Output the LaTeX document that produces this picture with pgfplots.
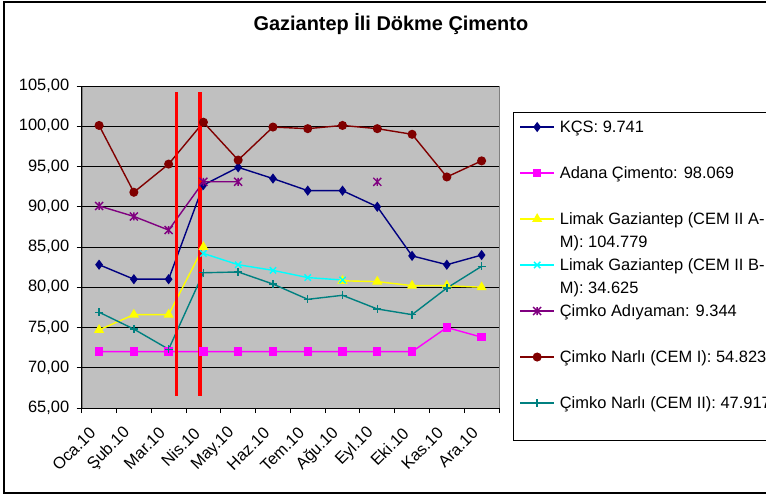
\documentclass[border=0pt]{standalone}
\usepackage{fontspec}
\setmainfont{Liberation Sans}
\usepackage{pgfplots}
\usepackage{pgfplotstable}
\pgfplotsset{compat=1.18}
\definecolor{kcs}{HTML}{000080}
\definecolor{adana}{HTML}{FF00FF}
\definecolor{lima}{HTML}{FFFF00}
\definecolor{limb}{HTML}{00FFFF}
\definecolor{adi}{HTML}{800080}
\definecolor{narA}{HTML}{800000}
\definecolor{narB}{HTML}{008080}
\definecolor{plotbg}{HTML}{C0C0C0}
\pgfdeclareplotmark{xstar}{%
  \pgfpathmoveto{\pgfqpoint{-\pgfplotmarksize}{-\pgfplotmarksize}}%
  \pgfpathlineto{\pgfqpoint{\pgfplotmarksize}{\pgfplotmarksize}}%
  \pgfpathmoveto{\pgfqpoint{-\pgfplotmarksize}{\pgfplotmarksize}}%
  \pgfpathlineto{\pgfqpoint{\pgfplotmarksize}{-\pgfplotmarksize}}%
  \pgfpathmoveto{\pgfqpoint{0pt}{-\pgfplotmarksize}}%
  \pgfpathlineto{\pgfqpoint{0pt}{\pgfplotmarksize}}%
  \pgfusepathqstroke}
\pgfplotstableread{
x  kcs   adana limA  limB  adi   n1    n2
0  82.8  72    74.7  nan   90.1  100.1 76.9
1  81.0  72    76.6  nan   88.8  91.8  74.8
2  81.0  72    76.6  nan   87.1  95.3  72.3
3  92.7  72    85.0  84.2  93.1  100.5 81.8
4  94.9  72    nan   82.8  93.1  95.8  81.9
5  93.5  72    nan   82.1  nan   99.9  80.4
6  92.0  72    nan   81.2  nan   99.7  78.5
7  92.0  72    80.8  80.9  nan   100.1 79.0
8  90.0  72    80.7  nan   93.1  99.7  77.3
9  83.9  72    80.2  nan   nan   99.0  76.6
10 82.8  75.0  80.2  nan   nan   93.7  79.9
11 84.0  73.8  80.0  nan   nan   95.7  82.6
}\datatable
\begin{document}
\begin{tikzpicture}
\useasboundingbox (0,0) rectangle (766bp,494bp);
\draw[line width=1.3bp] (900bp,492bp) -- (4bp,492bp) -- (4bp,1bp) -- (900bp,1bp);
\begin{axis}[
  at={(81.7bp,86bp)}, anchor=south west,
  scale only axis, width=417.3bp, height=322bp,
  xmin=-0.5, xmax=11.5, ymin=65, ymax=105,
  unbounded coords=jump,
  axis background/.style={fill=plotbg, draw=gray},
  axis x line*=bottom, axis y line*=left,
  axis line style={-, black, line width=0.9bp},
  tick align=outside,
  xtick={0,...,11},
  xticklabels={Oca.10,Şub.10,Mar.10,Nis.10,May.10,Haz.10,Tem.10,Ağu.10,Eyl.10,Eki.10,Kas.10,Ara.10},
  minor xtick={-0.5,0.5,...,11.5},
  major x tick style={draw=none},
  minor x tick style={black, line width=0.9bp},
  minor tick length=5bp,
  ytick={65,70,...,105},
  major y tick style={black, line width=0.9bp},
  major tick length=5bp,
  ymajorgrids, major grid style={black, line width=0.8bp},
  tick label style={font=\fontsize{16.5}{19}\selectfont},
  xticklabel style={xshift=-4bp, yshift=-15bp, rotate=45, anchor=east},
  yticklabel style={xshift=-4bp},
  /pgf/number format/assume math mode=true,
  yticklabel={\pgfmathprintnumber[fixed, fixed zerofill, precision=2, use comma, 1000 sep={}]{\tick}},
  title={\bfseries Gaziantep İli Dökme Çimento},
  title style={at={(axis description cs:0.741,1.1553)}, anchor=base, font=\bfseries\fontsize{20}{24}\selectfont},
  legend cell align=left,
  legend image code/.code={\draw[mark repeat=2,mark phase=2,#1] plot coordinates {(0bp,0bp)(17bp,0bp)(34bp,0bp)};},
  legend style={at={(axis description cs:1.0336,0.919)}, anchor=north west,
    draw=black, line width=0.9bp, fill=white,
    font=\fontsize{16.5}{19}\selectfont,
    row sep=0pt, column sep=5bp, inner xsep=6bp, inner ysep=3bp,
    nodes={inner sep=0pt, text height=17bp, text depth=6bp}},
  every axis plot/.append style={line width=1.4bp},
]
\addplot[kcs, mark=diamond*, mark size=4bp] table[x=x,y=kcs]{\datatable};
\addlegendentry{KÇS: 9.741}
\addlegendimage{empty legend}\addlegendentry{\mbox{}}
\addplot[adana, mark=square*, mark size=3.5bp] table[x=x,y=adana]{\datatable};
\addlegendentry{Adana Çimento: 98.069}
\addlegendimage{empty legend}\addlegendentry{\mbox{}}
\addplot[lima, mark=triangle*, mark size=4.5bp] table[x=x,y=limA]{\datatable};
\addlegendentry{Limak Gaziantep (CEM II A-}
\addlegendimage{empty legend}\addlegendentry{M): 104.779}
\addplot[limb, mark=x, mark size=4.5bp, mark options={line width=1.4bp}] table[x=x,y=limB]{\datatable};
\addlegendentry{Limak Gaziantep (CEM II B-}
\addlegendimage{empty legend}\addlegendentry{M): 34.625}
\addplot[adi, mark=xstar, mark size=4bp, mark options={line width=1.4bp}] table[x=x,y=adi]{\datatable};
\addlegendentry{Çimko Adıyaman: 9.344}
\addlegendimage{empty legend}\addlegendentry{\mbox{}}
\addplot[narA, mark=*, mark size=3.8bp] table[x=x,y=n1]{\datatable};
\addlegendentry{Çimko Narlı (CEM I): 54.823}
\addlegendimage{empty legend}\addlegendentry{\mbox{}}
\addplot[narB, mark=+, mark size=4bp, mark options={line width=1.4bp}] table[x=x,y=n2]{\datatable};
\addlegendentry{Çimko Narlı (CEM II): 47.917}
\addlegendimage{empty legend}\addlegendentry{\mbox{}}
\addplot[red, line width=3.5bp, forget plot] coordinates {(2.23,66.5) (2.23,104.3)};
\addplot[red, line width=3.5bp, forget plot] coordinates {(2.9,66.5) (2.9,104.3)};
\end{axis}
\end{tikzpicture}
\end{document}
